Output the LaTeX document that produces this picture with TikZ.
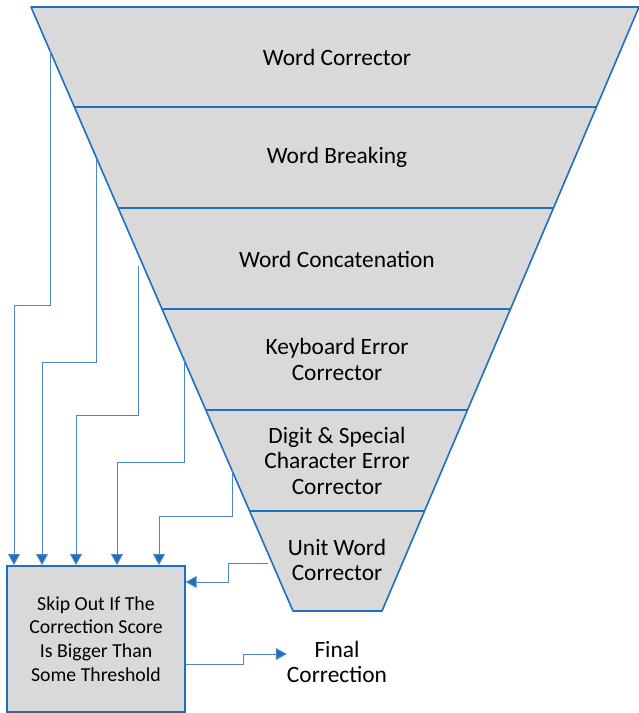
\documentclass[tikz,border=0pt]{standalone}
\usepackage{fontspec}
\setmainfont{Carlito}
\usepackage{xcolor}
\usetikzlibrary{arrows.meta}
\definecolor{edgeblue}{HTML}{1F6FC0}
\definecolor{linkblue}{HTML}{4A86C8}
\definecolor{bandgray}{HTML}{D9D9D9}
\tikzset{funnel/.style = {draw = edgeblue, fill = bandgray, line width = 1.6pt, line join = round}}
\tikzset{divider/.style = {draw = edgeblue, line width = 1.4pt}}
\tikzset{stage/.style = {align = center, inner sep = 0, font = \fontsize{23.4}{25.5}\selectfont}}
\tikzset{skipbox/.style = {draw = edgeblue, fill = bandgray, line width = 1.4pt, minimum width = 178, minimum height = 146, align = center, font = \fontsize{19.8}{23.7}\selectfont}}
\tikzset{link/.style = {draw = linkblue, line width = 1pt, -{Triangle[width=12pt,length=11pt,fill=edgeblue]}}}

\begin{document}
\begin{tikzpicture}[x=1pt, y=-1pt]
            \useasboundingbox (0,0) rectangle (639,713);
            % funnel and its bands
            \filldraw [funnel] (31,7)--(639,7)--(382,611)--(293,611)--cycle;
            \draw [divider] (74.4,107)--(596.4,107);
            \draw [divider] (118.3,208)--(553.5,208);
            \draw [divider] (162.1,309)--(510.5,309);
            \draw [divider] (206.0,410)--(467.5,410);
            \draw [divider] (249.8,511)--(424.5,511);
            \node [stage] (wcorr) at (337,57) {Word Corrector};
            \node [stage] (wbreak) at (337,157) {Word Breaking};
            \node [stage] (wconcat) at (337,259) {Word Concatenation};
            \node [stage] (kbd) at (337,359.5) {Keyboard Error\\Corrector};
            \node [stage] (digit) at (337,460.5) {Digit \& Special\\Character Error\\Corrector};
            \node [stage] (unit) at (337,560) {Unit Word\\Corrector};
            % skip box and output
            \node [skipbox] (skip) at (96,639) {Skip Out If The\\Correction Score\\Is Bigger Than\\Some Threshold};
            \node [stage] (final) at (337,662) {Final\\Correction};
            % exits on the funnel edge
            \coordinate (e1) at (50,50);
            \coordinate (e2) at (96,160);
            \coordinate (e3) at (138,266);
            \coordinate (e4) at (184,358);
            \coordinate (e5) at (232,470);
            \coordinate (e6) at (268,563);
            \draw [link] (e1)--(50,305)--(14,305)--(14,565);
            \draw [link] (e2)--(96,362)--(42,362)--(42,565);
            \draw [link] (e3)--(138,415)--(76,415)--(76,565);
            \draw [link] (e4)--(184,462)--(117,462)--(117,565);
            \draw [link] (e5)--(232,516)--(159,516)--(159,565);
            \draw [link] (e6)--(228,563)--(228,582)--(skip.east |- 0,582);
            \draw [link] (skip.east |- 0,664)--(243,664)--(243,654)--(final.west |- 0,654);
        \end{tikzpicture}
\end{document}
